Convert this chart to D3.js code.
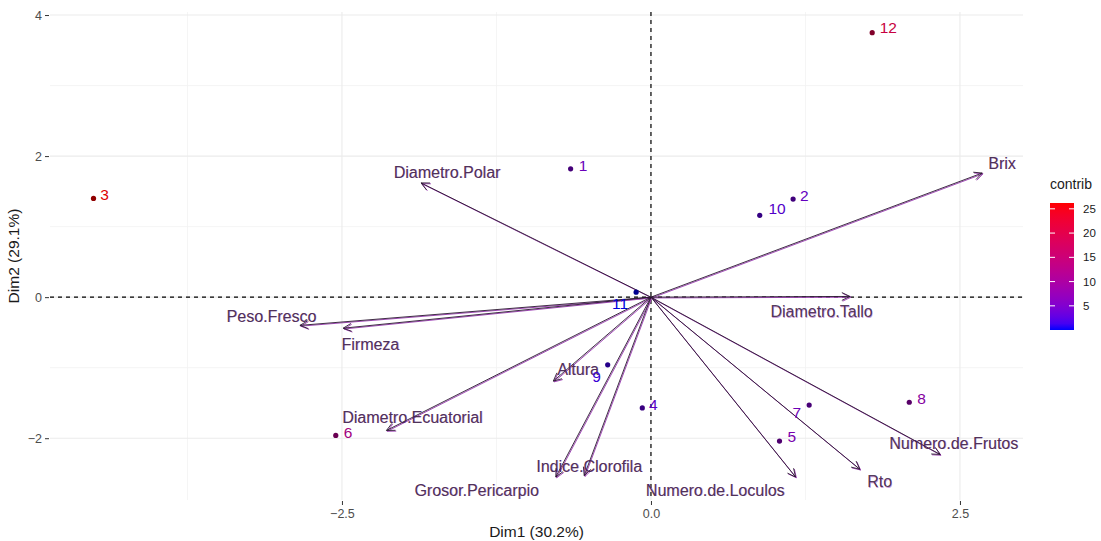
<!DOCTYPE html>
<html>
<head>
<meta charset="utf-8">
<script src="https://cdn.jsdelivr.net/npm/d3@7"></script>
<style>
  html, body { margin: 0; padding: 0; background: #ffffff; }
  svg { display: block; font-family: "Liberation Sans", Arial, sans-serif; }
</style>
</head>
<body>
<svg id="chart" width="1101" height="541"></svg>
<script>
// Individuals (rows of the PCA) – coordinates on Dim1 / Dim2 and contribution
const individuals = ["1", "2", "3", "4", "5", "6", "7", "8", "9", "10", "11", "12"];
const indDim1 = [-0.65, 1.15, -4.51, -0.07, 1.04, -2.55, 1.28, 2.09, -0.35, 0.88, -0.12, 1.79];
const indDim2 = [1.82, 1.39, 1.40, -1.57, -2.04, -1.96, -1.53, -1.49, -0.96, 1.16, 0.07, 3.75];
const indContrib = [4.4, 3.8, 26.2, 2.9, 6.1, 12.1, 4.7, 7.7, 1.2, 2.5, 0.02, 20.2];
// Where each individual's label sits (repelled from its point)
const indLabelDim1 = [-0.55, 1.24, -4.42, 0.02, 1.14, -2.45, 1.18, 2.19, -0.44, 1.02, -0.25, 1.92];
const indLabelDim2 = [1.86, 1.44, 1.46, -1.52, -1.98, -1.92, -1.63, -1.43, -1.12, 1.26, -0.09, 3.83];

// Variables – arrow tips on Dim1 / Dim2
const variables = ["Brix", "Diametro.Polar", "Diametro.Tallo", "Peso.Fresco", "Firmeza", "Altura",
  "Diametro.Ecuatorial", "Indice.Clorofila", "Grosor.Pericarpio", "Numero.de.Loculos", "Rto", "Numero.de.Frutos"];
const varDim1 = [2.68, -1.86, 1.61, -2.84, -2.49, -0.79, -2.14, -0.54, -0.77, 1.17, 1.69, 2.34];
const varDim2 = [1.76, 1.62, 0.01, -0.40, -0.44, -1.19, -1.89, -2.53, -2.55, -2.55, -2.44, -2.23];
// Repelled label centres of the variables
const varLabelDim1 = [2.84, -1.65, 1.38, -3.07, -2.27, -0.59, -1.93, -0.50, -1.41, 0.52, 1.85, 2.45];
const varLabelDim2 = [1.90, 1.77, -0.21, -0.27, -0.67, -1.02, -1.70, -2.40, -2.74, -2.74, -2.62, -2.07];

// Axis ticks and titles
const xTicks = [-2.5, 0, 2.5];
const yTicks = [-2, 0, 2, 4];
const xMinor = [-3.75, -1.25, 1.25];
const yMinor = [-1, 1, 3];
const legendTicks = [5, 10, 15, 20, 25];
const xTitle = "Dim1 (30.2%)";
const yTitle = "Dim2 (29.1%)";
const legendTitle = "contrib";

const svg = d3.select("#chart");
const panel = { left: 50, right: 1023, top: 12, bottom: 500 };

const x = d3.scaleLinear().domain([-4.862, 3.01]).range([panel.left, panel.right]);
const y = d3.scaleLinear().domain([-2.876, 4.043]).range([panel.bottom, panel.top]);

const cMin = d3.min(indContrib), cMax = d3.max(indContrib);
const color = d3.scaleLinear()
  .domain([cMin, cMax])
  .range(["#0000ff", "#ff0000"])
  .interpolate(d3.interpolateLab);

// Grid
const grid = svg.append("g");
grid.selectAll("line.vminor").data(xMinor).join("line")
  .attr("x1", d => x(d)).attr("x2", d => x(d))
  .attr("y1", panel.top).attr("y2", panel.bottom)
  .attr("stroke", "#f3f3f3").attr("stroke-width", 0.8);
grid.selectAll("line.hminor").data(yMinor).join("line")
  .attr("y1", d => y(d)).attr("y2", d => y(d))
  .attr("x1", panel.left).attr("x2", panel.right)
  .attr("stroke", "#f3f3f3").attr("stroke-width", 0.8);
grid.selectAll("line.vmajor").data(xTicks).join("line")
  .attr("x1", d => x(d)).attr("x2", d => x(d))
  .attr("y1", panel.top).attr("y2", panel.bottom)
  .attr("stroke", "#ebebeb").attr("stroke-width", 1.1);
grid.selectAll("line.hmajor").data(yTicks).join("line")
  .attr("y1", d => y(d)).attr("y2", d => y(d))
  .attr("x1", panel.left).attr("x2", panel.right)
  .attr("stroke", "#ebebeb").attr("stroke-width", 1.1);

// Axes (ticks + labels only)
const xAxis = d3.axisBottom(x).tickValues(xTicks).tickFormat(d3.format(".1f")).tickSize(4).tickPadding(4);
const gx = svg.append("g").attr("transform", `translate(0,${panel.bottom + 1})`).call(xAxis);
const yAxis = d3.axisLeft(y).tickValues(yTicks).tickFormat(d3.format("d")).tickSize(4).tickPadding(3);
const gy = svg.append("g").attr("transform", `translate(${panel.left - 1},0)`).call(yAxis);
[gx, gy].forEach(g => {
  g.select(".domain").remove();
  g.selectAll(".tick line").attr("stroke", "#333333").attr("stroke-width", 1);
  g.selectAll(".tick text").attr("fill", "#4d4d4d").attr("font-size", 12.5)
    .attr("font-family", "Liberation Sans, Arial, sans-serif");
});
gy.selectAll(".tick text").attr("dy", "0.34em");

// Axis titles
svg.append("text").attr("x", (panel.left + panel.right) / 2).attr("y", 537)
  .attr("text-anchor", "middle").attr("font-size", 15.5).attr("fill", "#1a1a1a").text(xTitle);
svg.append("text").attr("transform", `translate(19,${(panel.top + panel.bottom) / 2}) rotate(-90)`)
  .attr("text-anchor", "middle").attr("font-size", 15.5).attr("fill", "#1a1a1a").text(yTitle);

// Reference lines through the origin
svg.append("line").attr("x1", panel.left).attr("x2", panel.right)
  .attr("y1", y(0)).attr("y2", y(0))
  .attr("stroke", "#000").attr("stroke-width", 1.2).attr("stroke-dasharray", "4,4");
svg.append("line").attr("x1", x(0)).attr("x2", x(0))
  .attr("y1", panel.top).attr("y2", panel.bottom)
  .attr("stroke", "#000").attr("stroke-width", 1.2).attr("stroke-dasharray", "4,4");

// Variable arrows (drawn twice: purple underlay + dark line)
const varData = variables.map((name, i) => ({
  name, vx: varDim1[i], vy: varDim2[i], lx: varLabelDim1[i], ly: varLabelDim2[i]
}));

function arrowPath(d) {
  const x0 = x(0), y0 = y(0), x1 = x(d.vx), y1 = y(d.vy);
  const a = Math.atan2(y1 - y0, x1 - x0);
  const len = 9, spread = Math.PI / 7;
  const ax = x1 - len * Math.cos(a - spread), ay = y1 - len * Math.sin(a - spread);
  const bx = x1 - len * Math.cos(a + spread), by = y1 - len * Math.sin(a + spread);
  return `M${x0},${y0}L${x1},${y1}M${ax},${ay}L${x1},${y1}L${bx},${by}`;
}

const arrows = svg.append("g").attr("fill", "none");
arrows.selectAll("path.under").data(varData).join("path")
  .attr("d", arrowPath).attr("transform", "translate(0.8,0.8)")
  .attr("stroke", "#a24bb8").attr("stroke-width", 1);
arrows.selectAll("path.over").data(varData).join("path")
  .attr("d", arrowPath)
  .attr("stroke", "#2a1730").attr("stroke-width", 0.9);

const vlab = svg.append("g").attr("font-size", 16).attr("text-anchor", "middle")
  .attr("dominant-baseline", "central");
vlab.selectAll("text.under").data(varData).join("text")
  .attr("x", d => x(d.lx) + 0.6).attr("y", d => y(d.ly) + 0.4)
  .attr("fill", "#a04ab8").attr("fill-opacity", 0.55).text(d => d.name);
vlab.selectAll("text.over").data(varData).join("text")
  .attr("x", d => x(d.lx)).attr("y", d => y(d.ly))
  .attr("fill", "#3e2448").attr("fill-opacity", 0.9).text(d => d.name);

// Individuals
const indData = individuals.map((name, i) => ({
  name, px: indDim1[i], py: indDim2[i], c: indContrib[i], lx: indLabelDim1[i], ly: indLabelDim2[i]
}));
const pts = svg.append("g");
pts.selectAll("circle").data(indData).join("circle")
  .attr("cx", d => x(d.px)).attr("cy", d => y(d.py)).attr("r", 2.6)
  .attr("fill", d => d3.color(color(d.c)).darker(1.6));
pts.selectAll("text").data(indData).join("text")
  .attr("x", d => x(d.lx)).attr("y", d => y(d.ly))
  .attr("text-anchor", "middle").attr("dominant-baseline", "central")
  .attr("font-size", 15.5)
  .attr("fill", d => d3.color(color(d.c)).darker(0.4))
  .text(d => d.name);

// Colour legend
const legend = svg.append("g").attr("transform", "translate(1050,203)");
const lh = 127, lw = 24;
const lScale = d3.scaleLinear().domain([cMin, cMax]).range([lh, 0]);
const grad = svg.append("defs").append("linearGradient").attr("id", "contribGrad")
  .attr("x1", 0).attr("x2", 0).attr("y1", 1).attr("y2", 0);
d3.range(0, 1.0001, 0.05).forEach(t => {
  grad.append("stop").attr("offset", t).attr("stop-color", color(cMin + t * (cMax - cMin)));
});
legend.append("rect").attr("width", lw).attr("height", lh).attr("fill", "url(#contribGrad)");
legend.selectAll("line.tl").data(legendTicks).join("line")
  .attr("x1", 0).attr("x2", 5).attr("y1", d => lScale(d)).attr("y2", d => lScale(d))
  .attr("stroke", "#ffffff").attr("stroke-width", 1);
legend.selectAll("line.tr").data(legendTicks).join("line")
  .attr("x1", lw - 5).attr("x2", lw).attr("y1", d => lScale(d)).attr("y2", d => lScale(d))
  .attr("stroke", "#ffffff").attr("stroke-width", 1);
legend.selectAll("text.tick").data(legendTicks).join("text")
  .attr("x", lw + 9).attr("y", d => lScale(d)).attr("dominant-baseline", "central")
  .attr("font-size", 11.5).attr("fill", "#1a1a1a").text(d => d);
legend.append("text").attr("x", 0).attr("y", -14).attr("font-size", 14)
  .attr("fill", "#1a1a1a").text(legendTitle);
</script>
</body>
</html>
